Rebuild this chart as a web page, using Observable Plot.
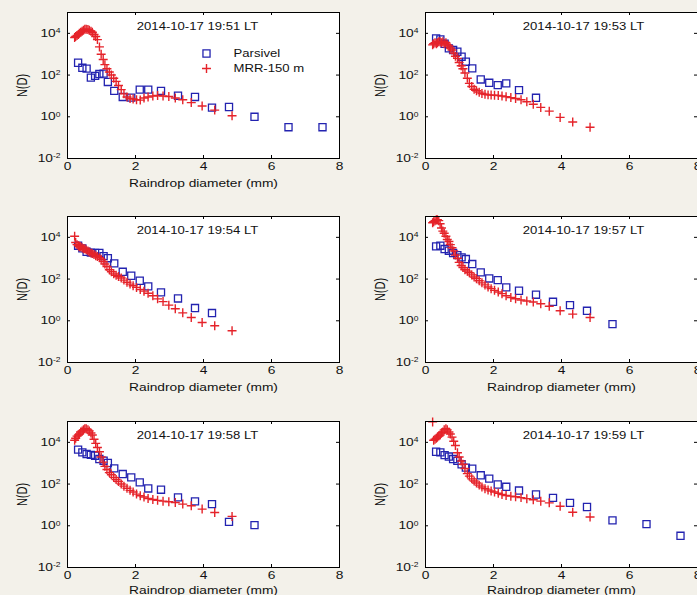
<!DOCTYPE html>
<html><head><meta charset="utf-8">
<script src="https://cdn.jsdelivr.net/npm/d3@7"></script>
<script src="https://cdn.jsdelivr.net/npm/@observablehq/plot@0.6"></script>
<style>
html,body{margin:0;padding:0;background:#f3f1ea;}
#chart{position:relative;width:697px;height:595px;overflow:hidden;background:#f3f1ea;}
#chart svg{position:absolute;}
</style></head><body><div id="chart"></div>
<script>
// ---- data ----
const titles = ["2014-10-17 19:51 LT","2014-10-17 19:53 LT","2014-10-17 19:54 LT","2014-10-17 19:57 LT","2014-10-17 19:58 LT","2014-10-17 19:59 LT"];
const legendLabels = ["Parsivel","MRR-150 m"];
const xTicks = [0,2,4,6,8];
const yTicks = [1e-2,1e0,1e2,1e4];
const xLabel = "Raindrop diameter (mm)";
const yLabel = "N(D)";
// Parsivel class centres (mm)
const parsivelD = [0.312,0.437,0.562,0.687,0.812,0.937,1.062,1.187,1.375,1.625,1.875,2.125,2.375,2.75,3.25,3.75,4.25,4.75,5.5,6.5,7.5];
// MRR diameter bins (mm)
const mrrD = [0.21,0.24,0.28,0.32,0.35,0.39,0.43,0.47,0.51,0.55,0.60,0.64,0.69,0.73,0.78,0.83,0.88,0.94,0.99,1.05,1.10,1.16,1.23,1.29,1.36,1.43,1.50,1.58,1.66,1.75,1.84,1.93,2.03,2.14,2.25,2.37,2.51,2.65,2.81,2.98,3.17,3.39,3.64,3.96,4.33,4.84];
// log10 N(D) values
const parsivel1 = [2.59,2.35,2.31,1.88,1.96,2.05,2.07,1.67,1.24,0.95,0.92,1.30,1.30,1.24,1.01,0.95,0.44,0.47,0.0,-0.5,-0.5];
const parsivel2 = [3.76,3.71,3.5,3.28,3.2,3.12,2.88,2.64,2.32,1.79,1.63,1.52,1.6,1.28,0.91];
const parsivel3 = [3.6,3.47,3.31,3.27,3.25,3.25,3.1,3.0,2.75,2.35,2.16,1.92,1.65,1.36,1.07,0.61,0.37];
const parsivel4 = [3.57,3.6,3.44,3.36,3.25,3.15,3.04,2.96,2.72,2.32,2.03,1.95,1.6,1.44,1.25,0.91,0.75,0.48,-0.16];
const parsivel5 = [3.65,3.52,3.44,3.4,3.36,3.2,3.12,3.01,2.75,2.48,2.32,2.08,1.79,1.73,1.36,1.17,1.04,0.19,0.03];
const parsivel6 = [3.55,3.52,3.39,3.32,3.2,3.11,2.95,2.79,2.74,2.42,2.26,1.98,1.87,1.69,1.5,1.34,1.1,0.9,0.26,0.08,-0.48];
const mrr1 = [3.8,3.85,3.9,3.95,4.0,4.05,4.1,4.15,4.2,4.2, 4.18,4.15,4.1,4.05,3.95,3.85,3.7,3.35,3.0,2.75, 2.5,2.3,2.15,2.0,1.85,1.7,1.5,1.3,1.1,0.95, 0.88,0.85,0.82,0.8,0.9,0.95,1.0,1.02,1.0,0.97, 0.9,0.82,0.68,0.52,0.32,0.05];
const mrr2 = [3.45,3.5,3.55,3.5,3.55,3.6,3.6,3.55,3.6,3.5, 3.55,3.45,3.4,3.3,3.2,3.05,2.9,2.8,2.6,2.45, 2.3,2.1,1.85,1.6,1.45,1.32,1.25,1.18,1.12,1.08, 1.05,1.04,1.03,1.02,1.0,0.96,0.92,0.88,0.82,0.72, 0.6,0.45,0.27,-0.03,-0.25,-0.5];
const mrr3 = [4.05,3.75,3.65,3.6,3.55,3.55,3.5,3.45,3.45,3.4, 3.35,3.3,3.25,3.22,3.18,3.12,3.08,3.02,2.95,2.85, 2.72,2.6,2.45,2.35,2.25,2.18,2.12,2.05,1.95,1.85, 1.76,1.68,1.6,1.5,1.42,1.32,1.2,1.05,0.92,0.75, 0.58,0.38,0.16,-0.08,-0.24,-0.48];
const mrr4 = [4.7,4.75,4.8,4.85,4.85,4.8,4.65,4.45,4.3,4.2, 4.05,3.9,3.8,3.65,3.5,3.35,3.15,3.0,2.8,2.65, 2.55,2.45,2.38,2.3,2.2,2.1,2.02,1.92,1.82,1.72, 1.62,1.54,1.46,1.38,1.3,1.2,1.12,1.06,1.0,0.95, 0.9,0.82,0.7,0.48,0.32,0.16];
const mrr5 = [4.1,4.2,4.3,4.35,4.4,4.5,4.55,4.6,4.65,4.65, 4.6,4.55,4.45,4.35,4.15,3.95,3.75,3.55,3.3,3.05, 2.85,2.7,2.55,2.45,2.32,2.22,2.12,2.0,1.9,1.8, 1.7,1.62,1.52,1.44,1.38,1.31,1.26,1.22,1.18,1.15, 1.12,1.04,0.96,0.8,0.64,0.45];
const mrr6 = [4.98,4.1,4.15,4.2,4.25,4.3,4.35,4.45,4.5,4.6, 4.65,4.6,4.5,4.4,4.25,4.05,3.85,3.5,3.3,3.1, 2.95,2.75,2.5,2.38,2.25,2.15,2.05,1.95,1.86,1.78, 1.72,1.67,1.62,1.56,1.5,1.45,1.42,1.39,1.35,1.3, 1.25,1.18,1.1,0.94,0.65,0.42];

// ---- layout / style ----
const BLUE = "#2323b0", RED = "#e5232a";
const FW = 272, FH = 146;
const colLeft = [67, 425], rowTop = [12, 216, 421];
const titleDx = [130, 158];
const xLabelDy = [25, 25, 23];
const ML = 67, MT = 12, SW = 350, SH = 200;
const SX = 1.25;

const panels = [
  {p: parsivel1, m: mrr1, xl: true, legend: true},
  {p: parsivel2, m: mrr2, xl: false},
  {p: parsivel3, m: mrr3, xl: true},
  {p: parsivel4, m: mrr4, xl: true},
  {p: parsivel5, m: mrr5, xl: true},
  {p: parsivel6, m: mrr6, xl: true}
];

function fixText(svg) {
  svg.querySelectorAll("text").forEach(t => {
    const s = t.textContent;
    const mm = /^10\^(-?\d+)$/.exec(s);
    if (mm) {
      while (t.firstChild) t.removeChild(t.firstChild);
      t.appendChild(document.createTextNode("10"));
      const ts = document.createElementNS("http://www.w3.org/2000/svg", "tspan");
      ts.setAttribute("dy", "-0.55em");
      ts.setAttribute("font-size", "0.62em");
      ts.textContent = mm[1];
      t.appendChild(ts);
    }
    const tr = t.getAttribute("transform");
    if (tr) {
      t.setAttribute("transform", tr + (tr.includes("rotate") ? " scale(1," + SX + ")" : " scale(" + SX + ",1)"));
    } else {
      const x = +t.getAttribute("x") || 0, y = +t.getAttribute("y") || 0;
      t.setAttribute("transform", `translate(${x},${y}) scale(${SX},1) translate(${-x},${-y})`);
    }
  });
}

const chart = document.getElementById("chart");
panels.forEach((P, k) => {
  const col = k % 2, row = Math.floor(k / 2);
  const pd = P.p.map((v, i) => ({d: parsivelD[i], n: 10 ** v}));
  const md = P.m.map((v, i) => ({d: mrrD[i], n: 10 ** v}));
  const marks = [
    Plot.frame({fill: "white", stroke: null}),
    Plot.tickX(xTicks, {x: d => d, insetTop: FH - 3, stroke: "#000"}),
    Plot.tickX(xTicks, {x: d => d, insetBottom: FH - 3, stroke: "#000"}),
    Plot.tickY(yTicks, {y: d => d, insetRight: FW - 3, stroke: "#000"}),
    Plot.tickY(yTicks, {y: d => d, insetLeft: FW - 3, stroke: "#000"}),
    Plot.axisX({ticks: xTicks, tickSize: 0, tickPadding: 4, label: null, fill: "#111"}),
    Plot.axisY({ticks: yTicks, tickSize: 0, tickPadding: 7, label: null, fill: "#111",
      tickFormat: d => "10^" + Math.round(Math.log10(d))}),
    Plot.dot(pd, {x: "d", y: "n", symbol: "square", r: 4, stroke: BLUE, strokeWidth: 1.3, fill: "none"}),
    Plot.dot(md, {x: "d", y: "n", symbol: "plus", r: 3, stroke: RED, strokeWidth: 1.4}),
    Plot.text([titles[k]], {text: d => d, frameAnchor: "top-left", dx: titleDx[col], dy: 14,
      textAnchor: "middle", lineAnchor: "middle", fontSize: 10.5, fill: "#111"}),
    Plot.text([yLabel], {text: d => d, frameAnchor: "left", dx: -45, rotate: -90,
      textAnchor: "middle", lineAnchor: "middle", fontSize: 11, fill: "#111"})
  ];
  if (P.xl) marks.push(Plot.text([xLabel], {text: d => d, frameAnchor: "bottom", dy: xLabelDy[row],
      textAnchor: "middle", lineAnchor: "middle", fontSize: 11, fill: "#111"}));
  if (P.legend) {
    marks.push(Plot.dot([0], {frameAnchor: "top-left", dx: 139, dy: 41, symbol: "square", r: 4, stroke: BLUE, strokeWidth: 1.3, fill: "none"}));
    marks.push(Plot.dot([0], {frameAnchor: "top-left", dx: 139, dy: 56, symbol: "plus", r: 3, stroke: RED, strokeWidth: 1.4}));
    marks.push(Plot.text([legendLabels[0]], {text: d => d, frameAnchor: "top-left", dx: 166, dy: 41, textAnchor: "start", lineAnchor: "middle", fontSize: 10.5, fill: "#111"}));
    marks.push(Plot.text([legendLabels[1]], {text: d => d, frameAnchor: "top-left", dx: 166, dy: 56, textAnchor: "start", lineAnchor: "middle", fontSize: 10.5, fill: "#111"}));
  }
  marks.push(Plot.frame({stroke: "#000"}));
  const svg = Plot.plot({
    width: SW, height: SH,
    marginLeft: ML, marginTop: MT, marginRight: SW - ML - FW, marginBottom: SH - MT - FH,
    x: {domain: [0, 8], axis: null},
    y: {type: "log", domain: [1e-2, 1e5], axis: null},
    style: {background: "transparent", fontFamily: "'Liberation Sans', Arial, sans-serif", fontSize: "11px", overflow: "visible", maxWidth: "none"},
    marks
  });
  svg.style.left = (colLeft[col] - ML) + "px";
  svg.style.top = (rowTop[row] - MT) + "px";
  fixText(svg);
  chart.appendChild(svg);
});
</script></body></html>
